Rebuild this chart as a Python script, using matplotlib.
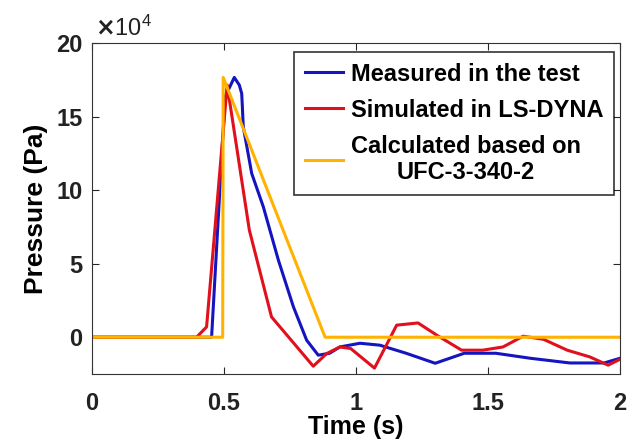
import numpy as np
import matplotlib.pyplot as plt

plt.rcParams['font.family'] = ['Liberation Sans', 'DejaVu Sans']
plt.rcParams['font.weight'] = 'bold'

# measured in the test
t_meas = [0, 0.453, 0.504, 0.539, 0.558, 0.567, 0.569, 0.573, 0.605, 0.649, 0.706,
          0.763, 0.813, 0.857, 0.90, 0.939, 1.015, 1.09, 1.19, 1.30, 1.41, 1.53,
          1.66, 1.81, 1.94, 2.0]
p_meas = [0, 0, 163400, 176600, 171400, 165700, 158900, 143000, 111300, 88600, 52400,
          20600, -2000, -12200, -10900, -6600, -4100, -5400, -10900, -17700, -10900, -10900,
          -14300, -17500, -17500, -14300]

# simulated in LS-DYNA
t_sim = [0, 0.396, 0.434, 0.512, 0.596, 0.680, 0.838, 0.889, 0.939, 0.98, 1.07,
         1.154, 1.235, 1.306, 1.40, 1.48, 1.557, 1.633, 1.71, 1.80, 1.886, 1.955, 2.0]
p_sim = [0, 0, 7000, 171400, 72800, 13800, -19700, -11100, -6600, -7700, -21000,
         8200, 9700, 1400, -8800, -8800, -6600, 700, -1400, -8800, -13400, -19000, -15000]

# calculated based on UFC-3-340-2
t_calc = [0, 0.495, 0.497, 0.883, 2.0]
p_calc = [0, 0, 176600, 0, 0]

labels = ['Measured in the test', 'Simulated in LS-DYNA', 'Calculated based on\nUFC-3-340-2']
colors = ['#1414C0', '#E0101C', '#FFB300']

fig = plt.figure(figsize=(6.27, 4.41), dpi=100)
ax = fig.add_axes([92 / 627, 67 / 441, 528 / 627, 331 / 441])

ax.plot(t_meas, p_meas, color=colors[0], lw=2.2, label=labels[0])
ax.plot(t_sim, p_sim, color=colors[1], lw=2.2, label=labels[1])
ax.plot(t_calc, p_calc, color=colors[2], lw=2.2, label=labels[2])

ax.set_xlim(0, 2)
ax.set_ylim(-25000, 200000)
ax.set_xticks([0, 0.5, 1, 1.5, 2])
ax.set_xticklabels(['0', '0.5', '1', '1.5', '2'])
ax.set_yticks([0, 50000, 100000, 150000, 200000])
ax.set_yticklabels(['0', '5', '10', '15', '20'])
ax.tick_params(direction='in', top=True, right=True, length=5, width=0.8,
               colors='#262626', labelsize=17)
ax.tick_params(axis='x', pad=13)
ax.tick_params(axis='y', pad=7)
for lab in ax.get_xticklabels() + ax.get_yticklabels():
    lab.set_color('#222222')
for s in ax.spines.values():
    s.set_color('#333333')
    s.set_linewidth(0.8)

ax.set_xlabel('Time (s)', fontsize=18, fontweight='bold', labelpad=0)
ax.set_ylabel('Pressure (Pa)', fontsize=19, fontweight='bold', labelpad=6)
ax.text(0.005, 1.005, r'$\times\mathregular{10^{4}}$', transform=ax.transAxes,
        fontsize=17, fontweight='normal', ha='left', va='bottom', color='#222222')

leg = ax.legend(loc='upper right', bbox_to_anchor=(0.9886, 0.9728), frameon=True,
                fancybox=False, edgecolor='black', handlelength=1.6,
                handletextpad=0.35, borderaxespad=0, borderpad=0.45,
                labelspacing=0.55, prop={'weight': 'bold', 'size': 17})
leg.get_frame().set_linewidth(1.2)
for txt in leg.get_texts():
    txt.set_multialignment('center')

fig.savefig('out.png', dpi=100)
